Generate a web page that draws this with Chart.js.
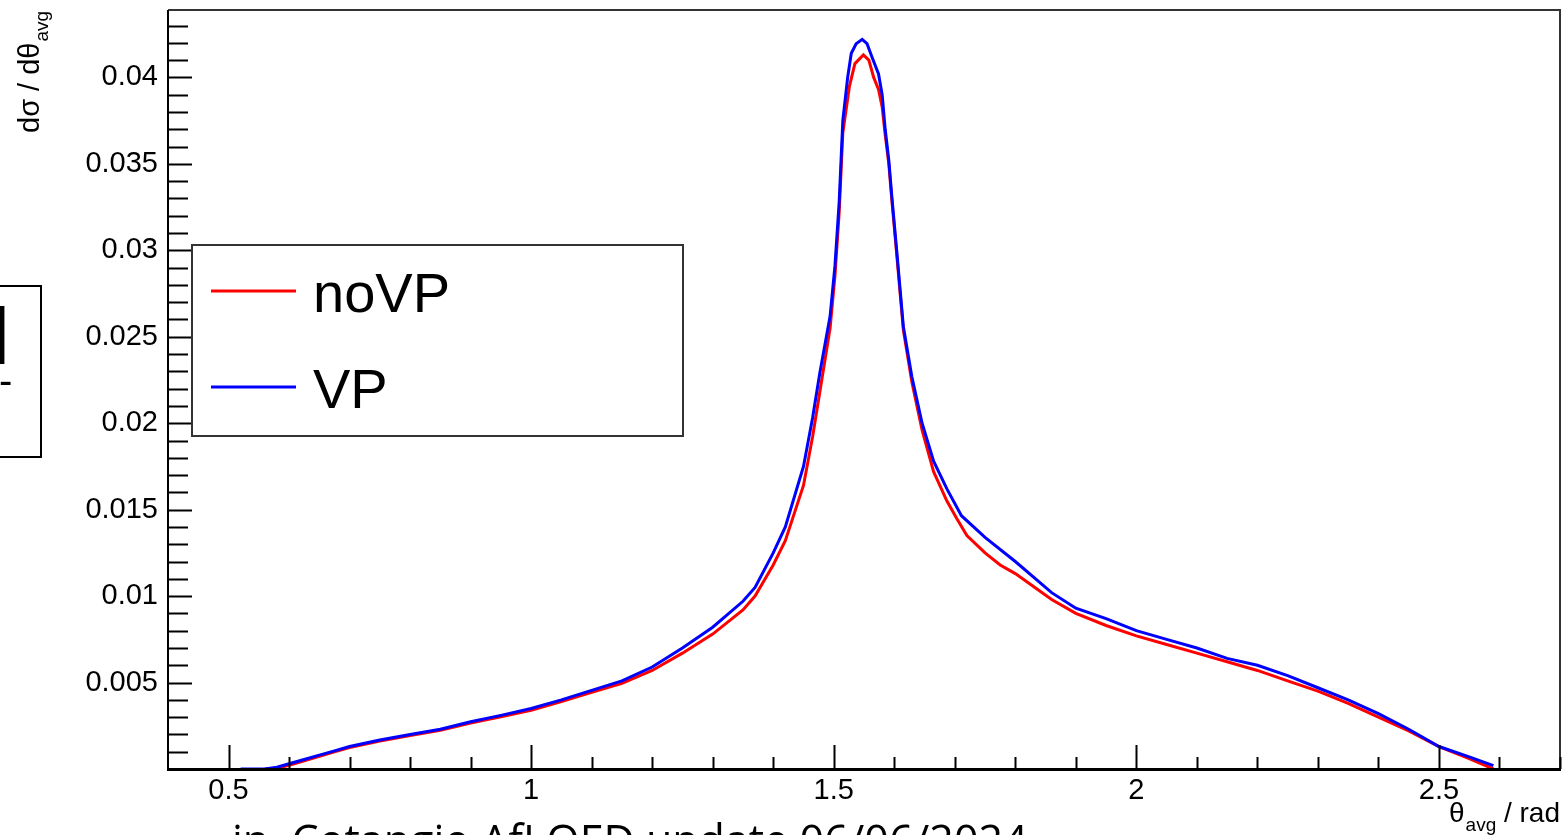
<!DOCTYPE html>
<html>
<head>
<meta charset="utf-8">
<title>dsigma / dtheta_avg</title>
<script src="https://cdn.jsdelivr.net/npm/chart.js@4.4.1/dist/chart.umd.min.js"></script>
<style>
  html, body { margin: 0; padding: 0; background: #fff; overflow: hidden; }
  #wrap { position: relative; width: 1567px; height: 835px; overflow: hidden; }
  #chart { position: absolute; left: 0; top: 0; }
  .cutbox { position: absolute; left: -10px; top: 285px; width: 48px; height: 169px; border: 2px solid #000; }
  .frag { position: absolute; font-family: "Liberation Sans", Arial, sans-serif; color: #000; white-space: nowrap; }
  .note { position: absolute; left: 232px; top: 818px; font-family: "Open Sans", sans-serif; font-size: 43px; line-height: 43px; white-space: nowrap; color: #000; }
</style>
</head>
<body>
<div id="wrap">
  <canvas id="chart" width="1567" height="835"></canvas>
  <div class="cutbox"></div>
  <span class="frag" style="left:-8px;top:297px;font-size:80px;line-height:80px;">l</span>
  <span class="frag" style="left:-1px;top:360px;font-size:40px;line-height:40px;">-</span>
  <div class="note">in&nbsp; Cotangio AfI QED update 06/06/2024</div>
</div>
<script>
// theta_avg (rad) and d sigma / d theta_avg
const thetaNoVP = [0.56, 0.58, 0.60, 0.625, 0.65, 0.675, 0.70, 0.75, 0.80, 0.85, 0.90, 0.95, 1.00, 1.05, 1.10, 1.15, 1.20, 1.25, 1.30, 1.35, 1.37, 1.40, 1.42, 1.45, 1.465, 1.477, 1.494, 1.502, 1.509, 1.515, 1.526, 1.535, 1.549, 1.558, 1.566, 1.574, 1.580, 1.585, 1.591, 1.596, 1.604, 1.615, 1.629, 1.646, 1.665, 1.687, 1.703, 1.72, 1.75, 1.775, 1.80, 1.86, 1.90, 1.95, 2.00, 2.05, 2.10, 2.15, 2.20, 2.25, 2.30, 2.35, 2.40, 2.45, 2.50, 2.55, 2.59];
const noVpValues = [0, 0.00005, 0.00022, 0.00048, 0.00074, 0.001, 0.00124, 0.00162, 0.00194, 0.00224, 0.00266, 0.00302, 0.0034, 0.0039, 0.00443, 0.00495, 0.0057, 0.0067, 0.0078, 0.0092, 0.0100, 0.0118, 0.0132, 0.0164, 0.0192, 0.0218, 0.0255, 0.0285, 0.0322, 0.0368, 0.0395, 0.0408, 0.0413, 0.0410, 0.0400, 0.0393, 0.0383, 0.0367, 0.0350, 0.0329, 0.0298, 0.0254, 0.0224, 0.0196, 0.0172, 0.0155, 0.0145, 0.0135, 0.0125, 0.0118, 0.0113, 0.0098, 0.0090, 0.0083, 0.0077, 0.0072, 0.0067, 0.0062, 0.0057, 0.0051, 0.0045, 0.0038, 0.0030, 0.0022, 0.0013, 0.0006, 0];

const thetaVP = [0.52, 0.56, 0.58, 0.60, 0.625, 0.65, 0.675, 0.70, 0.75, 0.80, 0.85, 0.90, 0.95, 1.00, 1.05, 1.10, 1.15, 1.20, 1.25, 1.30, 1.35, 1.37, 1.40, 1.42, 1.45, 1.465, 1.477, 1.494, 1.502, 1.509, 1.515, 1.523, 1.529, 1.537, 1.547, 1.555, 1.563, 1.574, 1.580, 1.585, 1.591, 1.596, 1.604, 1.615, 1.629, 1.646, 1.665, 1.687, 1.711, 1.75, 1.80, 1.86, 1.90, 1.95, 2.00, 2.05, 2.10, 2.15, 2.20, 2.25, 2.30, 2.35, 2.40, 2.45, 2.50, 2.55, 2.59];
const vpValues = [0, 0, 0.0001, 0.0003, 0.00055, 0.0008, 0.00105, 0.0013, 0.00168, 0.002, 0.0023, 0.00273, 0.0031, 0.0035, 0.004, 0.00455, 0.0051, 0.0059, 0.007, 0.0082, 0.0097, 0.0105, 0.0125, 0.014, 0.0175, 0.0203, 0.0229, 0.0262, 0.0291, 0.0328, 0.0375, 0.0400, 0.0414, 0.04195, 0.0422, 0.04195, 0.0412, 0.0402, 0.0390, 0.0370, 0.0352, 0.0331, 0.0300, 0.0256, 0.0227, 0.0200, 0.0178, 0.0162, 0.01465, 0.0134, 0.0120, 0.0102, 0.0093, 0.0087, 0.0080, 0.0075, 0.0070, 0.0064, 0.0060, 0.0054, 0.0047, 0.0040, 0.0032, 0.0023, 0.0013, 0.0007, 0.0002];

const xTickValues = [0.5, 1, 1.5, 2, 2.5];
const xTickLabels = ['0.5', '1', '1.5', '2', '2.5'];
const yTickValues = [0.005, 0.01, 0.015, 0.02, 0.025, 0.03, 0.035, 0.04];
const yTickLabels = ['0.005', '0.01', '0.015', '0.02', '0.025', '0.03', '0.035', '0.04'];

const FONT = '"Liberation Sans", Arial, sans-serif';

function toPoints(xs, ys) {
  return xs.map((x, i) => ({ x: x, y: ys[i] }));
}

// ROOT style frame, tick marks and axis titles
const rootAxes = {
  id: 'rootAxes',
  afterDatasetsDraw(chart) {
    const ctx = chart.ctx;
    const a = chart.chartArea;
    const xs = chart.scales.x, ys = chart.scales.y;
    ctx.save();
    // top / right frame
    ctx.strokeStyle = '#333';
    ctx.lineWidth = 2;
    ctx.beginPath();
    ctx.moveTo(a.left, a.top);
    ctx.lineTo(a.right, a.top);
    ctx.lineTo(a.right, a.bottom);
    ctx.stroke();

    ctx.strokeStyle = '#000';
    // y ticks
    ctx.lineWidth = 2;
    ctx.beginPath();
    for (let k = 1; k * 0.001 <= ys.max; k++) {
      const py = Math.round(ys.getPixelForValue(k * 0.001)) + 0.5;
      const len = (k % 5 === 0) ? 24 : 20;
      ctx.moveTo(a.left, py);
      ctx.lineTo(a.left + len, py);
    }
    ctx.stroke();
    // x ticks
    ctx.beginPath();
    for (let k = 5; k / 10 <= xs.max; k++) {
      const px = Math.round(xs.getPixelForValue(k / 10)) + 0.5;
      const len = (k % 5 === 0) ? 24 : 12;
      ctx.moveTo(px, a.bottom);
      ctx.lineTo(px, a.bottom - len);
    }
    ctx.stroke();
    // axes lines
    ctx.beginPath();
    ctx.moveTo(a.left, a.top);
    ctx.lineTo(a.left, a.bottom);
    ctx.stroke();
    ctx.lineWidth = 3;
    ctx.beginPath();
    ctx.moveTo(a.left - 1, a.bottom + 0.5);
    ctx.lineTo(a.right + 1, a.bottom + 0.5);
    ctx.stroke();

    // y title: d sigma / d theta_avg, rotated
    ctx.fillStyle = '#000';
    ctx.translate(39, 133);
    ctx.rotate(-Math.PI / 2);
    ctx.textAlign = 'left';
    ctx.textBaseline = 'alphabetic';
    ctx.font = '29px ' + FONT;
    const yMain = 'd\u03c3 / d\u03b8';
    ctx.fillText(yMain, 0, 0);
    const w = ctx.measureText(yMain).width;
    ctx.font = '19px ' + FONT;
    ctx.fillText('avg', w + 1, 9);
    ctx.setTransform(1, 0, 0, 1, 0, 0);

    // x title: theta_avg / rad
    ctx.textAlign = 'right';
    ctx.font = '28px ' + FONT;
    const tail = ' / rad';
    ctx.fillText(tail, a.right, 822);
    const w1 = ctx.measureText(tail).width;
    ctx.font = '19px ' + FONT;
    ctx.fillText('avg', a.right - w1, 831);
    const w2 = ctx.measureText('avg').width;
    ctx.font = '28px ' + FONT;
    ctx.fillText('\u03b8', a.right - w1 - w2 - 1, 822);
    ctx.restore();
  }
};

// legend box inside the pad
const rootLegend = {
  id: 'rootLegend',
  afterDraw(chart) {
    const ctx = chart.ctx;
    ctx.save();
    ctx.fillStyle = '#fff';
    ctx.fillRect(192, 245, 491, 191);
    ctx.strokeStyle = '#333';
    ctx.lineWidth = 2;
    ctx.strokeRect(192, 245, 491, 191);
    ctx.font = '56px ' + FONT;
    ctx.textAlign = 'left';
    ctx.textBaseline = 'alphabetic';
    chart.data.datasets.forEach((ds, i) => {
      const cy = 291 + i * 96;
      ctx.strokeStyle = ds.borderColor;
      ctx.lineWidth = 3;
      ctx.beginPath();
      ctx.moveTo(211, cy);
      ctx.lineTo(296, cy);
      ctx.stroke();
      ctx.fillStyle = '#000';
      ctx.fillText(ds.label, 313, cy + 21);
    });
    ctx.restore();
  }
};

new Chart(document.getElementById('chart').getContext('2d'), {
  type: 'line',
  data: {
    datasets: [
      { label: 'noVP', data: toPoints(thetaNoVP, noVpValues), borderColor: '#ff0000', borderWidth: 3, order: 2 },
      { label: 'VP', data: toPoints(thetaVP, vpValues), borderColor: '#0000ff', borderWidth: 3, order: 1 }
    ]
  },
  options: {
    responsive: false,
    animation: false,
    layout: { padding: { left: 0, top: 10, right: 7, bottom: 0 } },
    elements: { point: { radius: 0 }, line: { tension: 0 } },
    plugins: { legend: { display: false }, tooltip: { enabled: false } },
    scales: {
      x: {
        type: 'linear', min: 0.4, max: 2.7,
        grid: { display: false, drawTicks: false },
        border: { display: false },
        afterBuildTicks: s => { s.ticks = xTickValues.map(v => ({ value: v })); },
        afterFit: s => { s.height = 66; s.paddingLeft = 0; s.paddingRight = 0; },
        ticks: {
          autoSkip: false, maxRotation: 0, padding: 5, color: '#000',
          font: { family: FONT, size: 29 },
          callback: (v, i) => xTickLabels[i]
        }
      },
      y: {
        type: 'linear', min: 0, max: 0.0439,
        grid: { display: false, drawTicks: false },
        border: { display: false },
        afterBuildTicks: s => { s.ticks = yTickValues.map(v => ({ value: v })); },
        afterFit: s => { s.width = 168; s.paddingTop = 0; s.paddingBottom = 0; },
        ticks: {
          autoSkip: false, padding: 10, color: '#000',
          font: { family: FONT, size: 29 },
          callback: (v, i) => yTickLabels[i]
        }
      }
    }
  },
  plugins: [rootAxes, rootLegend]
});
</script>
</body>
</html>
